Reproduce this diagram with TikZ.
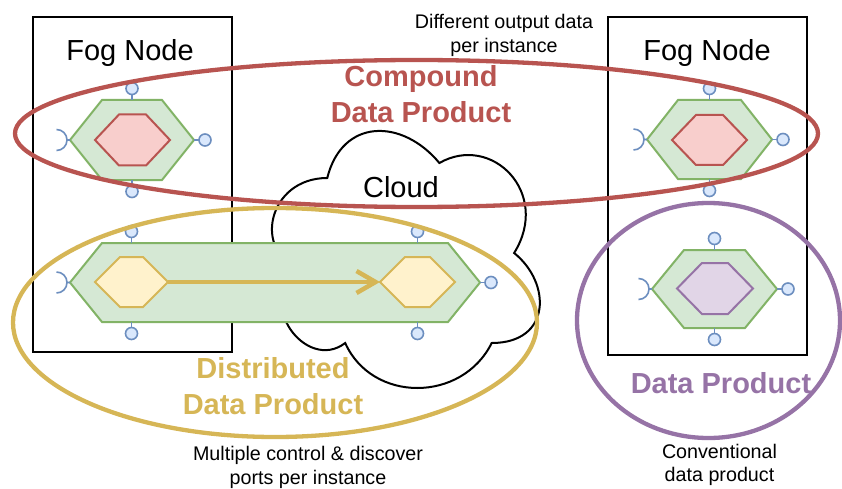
\documentclass[tikz,border=0pt]{standalone}
\usepackage{fontspec}
\setmainfont{Liberation Sans}
\usetikzlibrary{arrows.meta,calc}

% palette
\definecolor{greenfill}{HTML}{D5E8D4}
\definecolor{greendraw}{HTML}{82B366}
\definecolor{redfill}{HTML}{F8CECC}
\definecolor{reddraw}{HTML}{B85450}
\definecolor{yellowfill}{HTML}{FFF2CC}
\definecolor{yellowdraw}{HTML}{D6B656}
\definecolor{purplefill}{HTML}{E1D5E7}
\definecolor{purpledraw}{HTML}{9673A6}
\definecolor{portfill}{HTML}{DAE8FC}
\definecolor{portdraw}{HTML}{6C8EBF}

\tikzset{
  fogbox/.style={draw=black, line width=2pt, fill=white, inner sep=0pt, outer sep=0pt},
  hexframe/.style={inner sep=0pt, outer sep=0pt},
  outerhex/.style={fill=greenfill, draw=greendraw, line width=2pt},
  redhex/.style={fill=redfill, draw=reddraw, line width=2pt},
  yellowhex/.style={fill=yellowfill, draw=yellowdraw, line width=2pt},
  purplehex/.style={fill=purplefill, draw=purpledraw, line width=2pt},
  port/.style={circle, draw=portdraw, fill=portfill, line width=1.6pt,
    minimum size=12pt, inner sep=0pt, outer sep=0pt},
  portline/.style={draw=portdraw, line width=1.6pt},
  groupring/.style={line width=4.3pt},
  flowarrow/.style={draw=yellowdraw, line width=4.5pt,
    -{Straight Barb[length=19pt,width=22pt]}},
  cloudshape/.style={draw=black, fill=white, line width=2pt},
  title/.style={inner sep=0pt, font=\fontsize{29}{35}\selectfont},
  grouptitle/.style={inner sep=0pt, align=center, font=\fontsize{29}{36}\selectfont\bfseries},
  note/.style={inner sep=0pt, align=center, font=\fontsize{19.7}{23.5}\selectfont},
}

% hexagon with pointed west/east ends, drawn inside the frame node #1
\newcommand\hexoutline[3]{%
  \path[#3] (#1.west) -- ([xshift=#2pt]#1.north west) -- ([xshift=-#2pt]#1.north east)
    -- (#1.east) -- ([xshift=-#2pt]#1.south east) -- ([xshift=#2pt]#1.south west) -- cycle;}

% lollipop ports (y grows downwards in this picture)
\newcommand\portabove[2]{%
  \node[port] (#1) at ($(#2)+(0,-11.5)$) {};
  \draw[portline] (#1) -- (#2);}
\newcommand\portbelow[2]{%
  \node[port] (#1) at ($(#2)+(0,11.5)$) {};
  \draw[portline] (#1) -- (#2);}
\newcommand\portright[2]{%
  \node[port] (#1) at ($(#2)+(11,0)$) {};
  \draw[portline] (#1) -- (#2);}
% socket (required interface) on the west tip of hexagon #1
\newcommand\socket[1]{%
  \draw[portline] (#1.west) -- ++(-3pt,0pt) arc[start angle=0,end angle=90,radius=10.5pt];
  \draw[portline] ([xshift=-3pt]#1.west) arc[start angle=0,end angle=-90,radius=10.5pt];}

\begin{document}
\begin{tikzpicture}[x=1pt, y=-1pt]
\useasboundingbox (0,0) rectangle (842,489);

% fog nodes
\node[fogbox, minimum width=199pt, minimum height=335pt] (fogL) at (132.5,184.5) {};
\node[fogbox, minimum width=199pt, minimum height=338pt] (fogR) at (707.5,186) {};
\node[title, anchor=base] (fogLtitle) at (130,61) {Fog Node};
\node[title, anchor=base] (fogRtitle) at (707,61) {Fog Node};

% cloud
\begin{scope}[shift={(252.5,103)}, x=299pt, y=-300pt]
  \path[cloudshape] (0.25,0.25)
    .. controls (0.05,0.25) and (0,0.5) .. (0.16,0.55)
    .. controls (0,0.66) and (0.18,0.9) .. (0.31,0.8)
    .. controls (0.4,1) and (0.7,1) .. (0.8,0.8)
    .. controls (1,0.8) and (1,0.6) .. (0.875,0.5)
    .. controls (1,0.3) and (0.8,0.1) .. (0.625,0.2)
    .. controls (0.5,0.05) and (0.3,0.05) .. (0.25,0.25) -- cycle;
\end{scope}
\node[title, anchor=base] (cloudtitle) at (401,197) {Cloud};

% compound data product: one instance per fog node
\node[hexframe, minimum width=124pt, minimum height=80pt] (hA) at (132,140) {};
\hexoutline{hA}{32}{outerhex}
\node[hexframe, minimum width=75pt, minimum height=51pt] (rA) at (132.5,140) {};
\hexoutline{rA}{24}{redhex}
\portabove{hAtop}{hA.north}
\portbelow{hAbot}{hA.south}
\portright{hAout}{hA.east}
\socket{hA}

\node[hexframe, minimum width=125pt, minimum height=79pt] (hB) at (709.5,139.5) {};
\hexoutline{hB}{31}{outerhex}
\node[hexframe, minimum width=75pt, minimum height=50pt] (rB) at (709.5,140) {};
\hexoutline{rB}{24}{redhex}
\portabove{hBtop}{hB.north}
\portbelow{hBbot}{hB.south}
\portright{hBout}{hB.east}
\socket{hB}

% conventional data product
\node[hexframe, minimum width=125pt, minimum height=78pt] (hC) at (714.5,289) {};
\hexoutline{hC}{32}{outerhex}
\node[hexframe, minimum width=76pt, minimum height=51pt] (pC) at (715,288.5) {};
\hexoutline{pC}{25}{purplehex}
\portabove{hCtop}{hC.north}
\portbelow{hCbot}{hC.south}
\portright{hCout}{hC.east}
\socket{hC}

% distributed data product spanning fog node and cloud
\node[hexframe, minimum width=410pt, minimum height=79pt] (hD) at (275,282.5) {};
\hexoutline{hD}{32}{outerhex}
\node[hexframe, minimum width=73pt, minimum height=50pt] (yL) at (131.5,282) {};
\hexoutline{yL}{25}{yellowhex}
\node[hexframe, minimum width=75pt, minimum height=50pt] (yR) at (417.5,282) {};
\hexoutline{yR}{25}{yellowhex}
\draw[flowarrow] (yL.east) -- (yR.west);
\portabove{hDtopL}{yL |- hD.north}
\portabove{hDtopR}{yR |- hD.north}
\portbelow{hDbotL}{yL |- hD.south}
\portbelow{hDbotR}{yR |- hD.south}
\portright{hDout}{hD.east}
\socket{hD}

% grouping rings
\draw[groupring, draw=reddraw] (416.5,133.5) ellipse [x radius=401.5pt, y radius=73.5pt];
\draw[groupring, draw=yellowdraw] (275,322.5) ellipse [x radius=262pt, y radius=114.5pt];
\draw[groupring, draw=purpledraw] (708.5,320.5) ellipse [x radius=131.5pt, y radius=117.5pt];

% labels
\node[note] (notecompound) at (504,35.6) {Different output data\\per instance};
\node[grouptitle, text=reddraw] (compoundtitle) at (421,94.6) {Compound\\Data Product};
\node[grouptitle, text=yellowdraw] (disttitle) at (273,386.6) {Distributed\\Data Product};
\node[grouptitle, text=purpledraw, anchor=base] (dptitle) at (721,393) {Data Product};
\node[note] (notedist) at (308,467.6) {Multiple control \& discover\\ports per instance};
\node[note] (noteconv) at (719.5,464.9) {Conventional\\data product};
\end{tikzpicture}
\end{document}
